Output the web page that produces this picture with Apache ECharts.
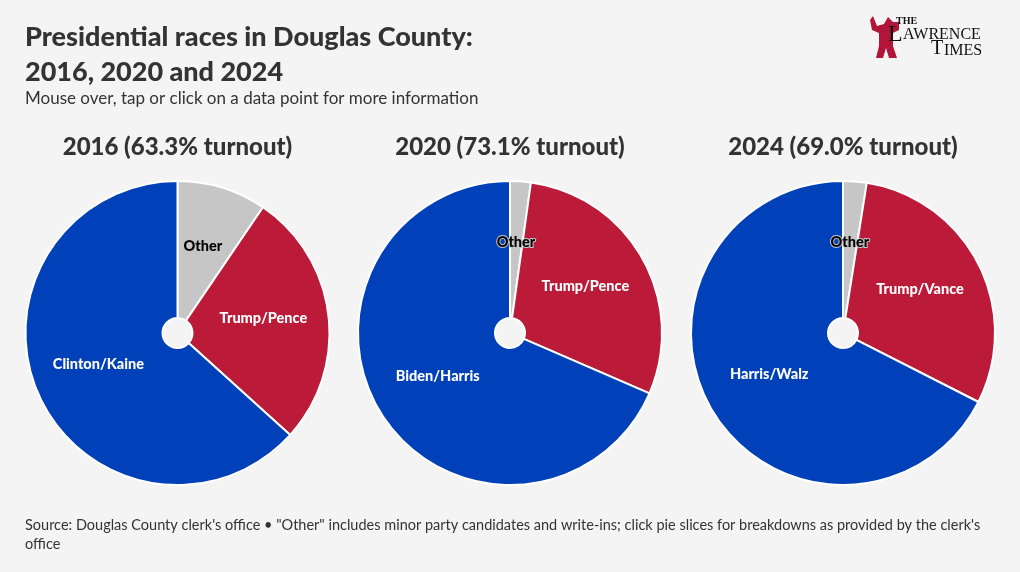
<!DOCTYPE html>
<html><head><meta charset="utf-8">
<script src="https://cdn.jsdelivr.net/npm/echarts@6/dist/echarts.min.js"></script>
<style>html,body{margin:0;padding:0;background:#f4f4f4}#c{width:1020px;height:572px}</style>
</head><body><div id="c"></div>
<script>
const candidates2016 = ['Other', 'Trump/Pence', 'Clinton/Kaine'];
const values2016 = [9.5, 27.2, 63.3];
const candidates2020 = ['Other', 'Trump/Pence', 'Biden/Harris'];
const values2020 = [2.2, 29.3, 68.5];
const candidates2024 = ['Other', 'Trump/Vance', 'Harris/Walz'];
const values2024 = [2.5, 30.0, 67.5];
const pieTitles = ['2016 (63.3% turnout)', '2020 (73.1% turnout)', '2024 (69.0% turnout)'];
const sliceColors = ['#c6c6c6', '#bb1a38', '#0040b8'];

const FONT = 'Lato, "Noto Sans", sans-serif';
const centersX = [177.5, 510, 843];
const years = [[candidates2016, values2016], [candidates2020, values2020], [candidates2024, values2024]];

const series = years.map(([names, vals], i) => ({
  type: 'pie',
  center: [centersX[i], 333],
  radius: [15, 152],
  startAngle: 90,
  clockwise: true,
  avoidLabelOverlap: false,
  itemStyle: { borderColor: '#ffffff', borderWidth: 2 },
  label: {
    show: true, position: 'inside', formatter: '{b}',
    fontFamily: FONT, fontWeight: 900, fontSize: 14.5, color: '#ffffff'
  },
  labelLayout: { dy: -4 },
  labelLine: { show: false },
  emphasis: { scale: false },
  data: names.map((n, j) => ({
    name: n, value: vals[j],
    itemStyle: { color: sliceColors[j] },
    label: j === 0 ? { color: '#000000', textBorderColor: '#c6c6c6', textBorderWidth: 2 } : {}
  }))
}));

const titles = [
  { text: 'Presidential races in Douglas County:\n2016, 2020 and 2024', left: 25, top: 20, padding: 0,
    textStyle: { fontFamily: FONT, fontWeight: 900, fontSize: 27, color: '#333333', lineHeight: 35 } },
  { text: 'Mouse over, tap or click on a data point for more information', left: 25, top: 90, padding: 0,
    textStyle: { fontFamily: FONT, fontWeight: 'normal', fontSize: 17, color: '#333333' } },
  { text: 'Source: Douglas County clerk\'s office \u2022 "Other" includes minor party candidates and write-ins; click pie slices for breakdowns as provided by the clerk\'s office',
    left: 25, top: 516, padding: 0,
    textStyle: { fontFamily: FONT, fontWeight: 'normal', fontSize: 14.5, color: '#333333', lineHeight: 19, width: 970, overflow: 'break' } }
].concat(pieTitles.map((t, i) => ({
  text: t, left: centersX[i], top: 135, textAlign: 'center', padding: 0,
  textStyle: { fontFamily: FONT, fontWeight: 900, fontSize: 24, color: '#333333' }
})));

const chart = echarts.init(document.getElementById('c'), null, { renderer: 'canvas' });
chart.setOption({
  backgroundColor: '#f4f4f4',
  animation: false,
  title: titles,
  tooltip: { trigger: 'item' },
  graphic: [
    { type: 'polygon', shape: { points: [[870,20],[873,16],[877,26],[884,24],[888,17],[893,22],[899,22],[899,30],[893,33],[893,46],[897,58],[889,58],[886,48],[883,58],[876,58],[879,46],[879,33],[872,30]] },
      style: { fill: '#b2153a' } },
    { type: 'text', left: 896, top: 16, style: { text: 'THE', fontFamily: '"Liberation Serif", serif', fontSize: 10, fontWeight: 'bold', fill: '#111' } },
    { type: 'text', left: 888, top: 23, style: { text: 'L', fontFamily: '"Liberation Serif", serif', fontSize: 24, fill: '#111' } },
    { type: 'text', left: 903, top: 27, style: { text: 'AWRENCE', fontFamily: '"Liberation Serif", serif', fontSize: 16, fill: '#111' } },
    { type: 'text', left: 931, top: 39, style: { text: 'T', fontFamily: '"Liberation Serif", serif', fontSize: 20, fill: '#111' } },
    { type: 'text', left: 944, top: 43, style: { text: 'IMES', fontFamily: '"Liberation Serif", serif', fontSize: 16, fill: '#111' } }
  ],
  series: series
});
</script></body></html>
